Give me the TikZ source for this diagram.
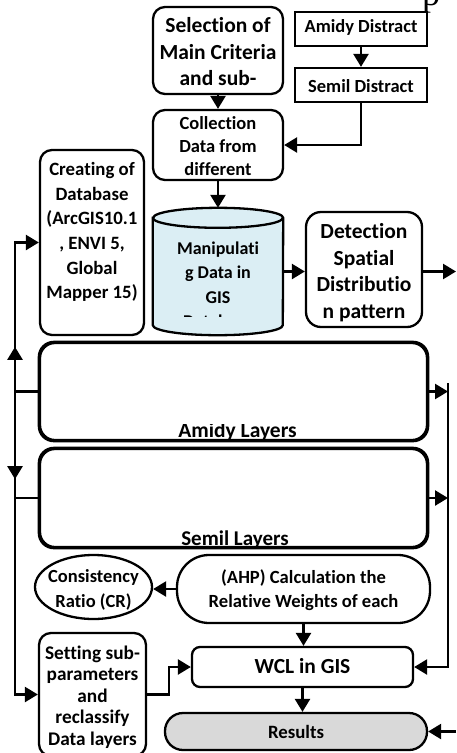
\documentclass[tikz,border=0pt]{standalone}
\usepackage{fontspec}
\setmainfont{Carlito}[Ligatures=NoCommon]
\newfontfamily\serifpart{Liberation Serif}
\usetikzlibrary{arrows.meta,decorations.markings,shapes.geometric}

\definecolor{cylblue}{RGB}{219,238,244}
\definecolor{resgray}{RGB}{217,217,217}

\begin{document}
\begin{tikzpicture}[x=1pt,y=-1pt,
  box/.style={draw, line width=2.3pt, inner sep=0pt, fill=white},
  rbox/.style={box, rounded corners=#1},
  lbl/.style={align=center, inner sep=0pt, font=#1},
  conn/.style={line width=2.5pt},
  arr/.style={conn, -{Triangle[length=13pt,width=15pt]}},
  midtip/.style={postaction={decorate}, decoration={markings,
      mark=at position #1 with {\arrow{Triangle[length=13pt,width=15pt]}}}}
]
\useasboundingbox (0,0) rectangle (456,753);

% fragment of a heading above the chart
\node[anchor=base west, inner sep=0pt, font=\serifpart\fontsize{36}{36}\selectfont] (frag) at (422,5) {p};

% ---------- top row ----------
\node[rbox=12pt, minimum width=130pt, minimum height=87pt] (sel) at (218,50.5) {};
\node[lbl=\bfseries\fontsize{21.5}{26.5}\selectfont] (selt) at (218,52) {Selection of\\Main Criteria\\and sub-};

\node[box, minimum width=132pt, minimum height=34pt] (amd) at (361,29) {};
\node[lbl=\bfseries\fontsize{18.5}{21}\selectfont] (amdt) at (361,27.5) {Amidy Distract};

\node[box, minimum width=132pt, minimum height=34pt] (sem) at (361,85) {};
\node[lbl=\bfseries\fontsize{18.5}{21}\selectfont] (semt) at (361,86) {Semil Distract};

\node[rbox=12pt, minimum width=130pt, minimum height=70pt,
  path picture={\node[lbl=\bfseries\fontsize{18.5}{23}\selectfont] (collt)
     at ([yshift=-1pt]path picture bounding box.center) {Collection\\Data from\\different};}]
  (coll) at (218,145) {};

% ---------- database row ----------
\node[rbox=12pt, minimum width=104pt, minimum height=185pt] (cre) at (92,242.5) {};
\node[lbl=\bfseries\fontsize{18.8}{24.6}\selectfont] (cret) at (92,232) {Creating of\\Database\\(ArcGIS10.1\\, ENVI 5,\\Global\\Mapper 15)};

\node[minimum width=130pt, minimum height=127pt, inner sep=0pt] (cyl) at (218,271.5) {};
\draw[line width=2.3pt, fill=cylblue]
  ([yshift=-10pt]cyl.north west) -- ([yshift=10pt]cyl.south west)
  arc[start angle=180, end angle=360, x radius=65pt, y radius=10pt]
  -- ([yshift=-10pt]cyl.north east)
  arc[start angle=0, end angle=180, x radius=65pt, y radius=10pt] -- cycle;
\draw[line width=2.3pt] ([yshift=-10pt]cyl.north west)
  arc[start angle=180, end angle=360, x radius=65pt, y radius=10pt];
\begin{scope}
  \clip ([yshift=-20pt]cyl.north west) rectangle ([yshift=19pt]cyl.south east);
  \node[lbl=\bfseries\fontsize{18}{24.5}\selectfont] (cylt) at (218,284.5) {Manipulati\\g Data in\\GIS\\Database};
\end{scope}

\node[rbox=15pt, minimum width=116pt, minimum height=115pt] (det) at (364,269.5) {};
\node[lbl=\bfseries\fontsize{21.5}{26.5}\selectfont] (dett) at (364,272.5) {Detection\\Spatial\\Distributio\\n pattern};

% ---------- layer panels ----------
\node[rbox=15pt, minimum width=387pt, minimum height=97pt] (aml) at (233.5,391.5) {};
\begin{scope}
  \clip (41,424.5) rectangle (426,441);
  \node[anchor=base, inner sep=0pt, font=\bfseries\fontsize{21.5}{25}\selectfont] (amlt) at (237.5,437) {Amidy Layers};
\end{scope}
\draw[line width=2.3pt, rounded corners=15pt] (aml.south west) rectangle (aml.north east);

\node[rbox=15pt, minimum width=387pt, minimum height=98pt] (sml) at (233.5,498) {};
\begin{scope}
  \clip (41,530.5) rectangle (426,547);
  \node[anchor=base, inner sep=0pt, font=\bfseries\fontsize{21}{25}\selectfont] (smlt) at (235,545) {Semil Layers};
\end{scope}
\draw[line width=2.3pt, rounded corners=15pt] (sml.south west) rectangle (sml.north east);

% ---------- weighting ----------
\node[box, ellipse, minimum width=117pt, minimum height=64pt] (cr) at (93.5,587) {};
\node[lbl=\bfseries\fontsize{18.5}{25}\selectfont] (crt) at (93.5,590) {Consistency\\Ratio (CR)};

\node[rbox=32pt, minimum width=253pt, minimum height=68pt] (ahp) at (303.5,589) {};
\node[lbl=\bfseries\fontsize{18.6}{24}\selectfont] (ahpt) at (303.5,590) {(AHP) Calculation the\\Relative Weights of each};

\node[rbox=8pt, minimum width=221pt, minimum height=40pt] (wcl) at (302.5,667) {};
\node[lbl=\bfseries\fontsize{21.5}{25}\selectfont] (wclt) at (302.5,666) {WCL in GIS};

\node[rbox=18pt, fill=resgray, minimum width=262pt, minimum height=37pt] (res) at (296,731.5) {};
\node[lbl=\bfseries\fontsize{18.8}{22}\selectfont] (rest) at (296,732) {Results};

\node[rbox=12pt, minimum width=107pt, minimum height=123pt] (set) at (92.5,694.5) {};
\node[lbl=\bfseries\fontsize{19.3}{21.5}\selectfont] (sett) at (92.5,697) {Setting sub-\\parameters\\and\\reclassify\\Data layers};

% ---------- connectors ----------
\draw[arr] (sel) -- (coll);
\draw[arr] (amd) -- (sem);
\draw[arr] (sem.south) |- (coll.east);
\draw[arr] (coll) -- (cyl.north);
\draw[arr] (cyl.east) -- (cyl.east -| det.west);
\coordinate (detout) at (456,271.5);
\draw[arr] (det.east |- detout) -- (detout);

% left feedback bus
\coordinate (lx) at (15,391.5);
\draw[arr, midtip=68.5pt] (aml.west) -- (aml.west -| lx) |- (cre.west);
\draw[arr, midtip=111.5pt] (aml.west) -- (aml.west -| lx) |- (set.west);
\draw[conn] (sml.west) -- (sml.west -| lx);

% right collector bus
\coordinate (rx) at (448,383);
\draw[arr] (rx) |- (wcl.east);
\draw[arr] (aml.east) -- (aml.east -| rx);
\draw[arr] (sml.east) -- (sml.east -| rx);

\draw[arr] (ahp.west) -- (ahp.west -| cr.east);
\draw[arr] (ahp.south) -- (ahp.south |- wcl.north);
\draw[arr] (wcl.south) -- (wcl.south |- res.north);
\coordinate (resin) at (456,731.5);
\draw[arr] (resin) -- (res.east);
\draw[arr] (set.east) -- ++(22,0) |- (wcl.west);
\end{tikzpicture}
\end{document}
